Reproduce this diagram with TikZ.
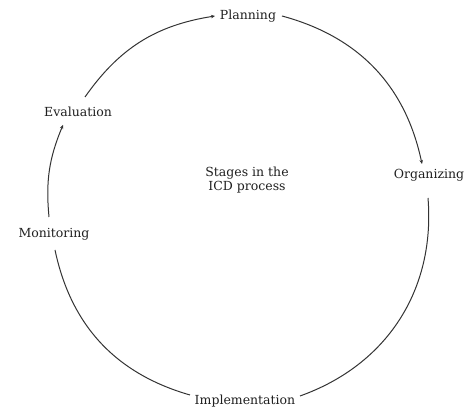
\documentclass[tikz,border=0pt]{standalone}
\usepackage{fontspec}
\setmainfont{DejaVu Serif}
\usetikzlibrary{arrows.meta}
\begin{document}
\begin{tikzpicture}[x=1pt,y=1pt,
  lbl/.style={inner sep=1pt, font=\fontsize{12.5}{14}\selectfont, text=black!88},
  conn/.style={draw=black!80, line width=1pt},
  arr/.style={conn, -{Stealth[length=4pt,width=3.5pt]}}]
\useasboundingbox (0,0) rectangle (464,411);
\node[lbl] (pl) at (248,395) {Planning};
\node[lbl] (org) at (429,236) {Organizing};
\node[lbl] (imp) at (245,10) {Implementation};
\node[lbl] (mon) at (54,177) {Monitoring};
\node[lbl] (ev) at (78,299) {Evaluation};
\node[lbl, align=center] (ctr) at (247,231) {Stages in the\\ICD process};
\draw[arr] ([shift={(7,15)}]ev.center) to[bend left=23] ([shift={(-33,0)}]pl.center);
\draw[arr] ([shift={(34,0)}]pl.center) to[bend left=31.5] ([shift={(-7,11)}]org.center);
\draw[conn] ([shift={(-1,-23)}]org.center) to[bend left=37.5] ([shift={(55,5)}]imp.center);
\draw[conn] ([shift={(-55,6)}]imp.center) to[bend left=31] ([shift={(1,-16)}]mon.center);
\draw[arr] ([shift={(-5,17)}]mon.center) to[bend left=14] ([shift={(-15,-13)}]ev.center);
\end{tikzpicture}
\end{document}
